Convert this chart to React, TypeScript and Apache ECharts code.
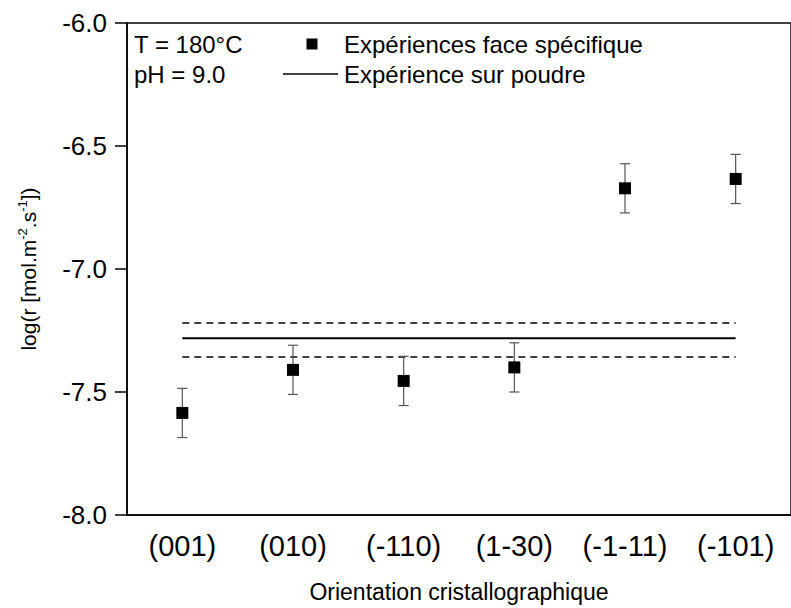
import React, { useEffect, useRef } from 'react';
import * as echarts from 'echarts';

const categories = ['(001)', '(010)', '(-110)', '(1-30)', '(-1-11)', '(-101)'];
const faceValues = [-7.585, -7.41, -7.455, -7.40, -6.672, -6.634];
const faceErrors = [0.1, 0.1, 0.1, 0.1, 0.1, 0.1];
const powderMean = [-7.282, -7.282, -7.282, -7.282, -7.281, -7.281];
const powderUpper = [-7.22, -7.22, -7.22, -7.22, -7.22, -7.22];
const powderLower = [-7.358, -7.358, -7.358, -7.358, -7.358, -7.358];
const conditionLabels = ['T = 180°C', 'pH = 9.0'];
const legendNames = ['Expériences face spécifique', 'Expérience sur poudre'];
const FONT = '"Liberation Sans", Arial, sans-serif';

export default function App() {
  const ref = useRef<HTMLDivElement>(null);
  useEffect(() => {
    if (!ref.current) return;
    const chart = echarts.init(ref.current, null, { renderer: 'svg' });
    const errData = categories.map((c, i) => [i, faceValues[i] - faceErrors[i], faceValues[i] + faceErrors[i]]);
    const textStyle = { fontSize: 24, fill: '#000', fontFamily: FONT, verticalAlign: 'middle' };
    chart.setOption({
      animation: false,
      backgroundColor: '#fff',
      textStyle: { fontFamily: FONT },
      grid: { left: 127, top: 23, width: 670, bottom: 91, show: true, borderColor: '#000', borderWidth: 1.5, backgroundColor: 'transparent' },
      graphic: [
        ...conditionLabels.map((t, i) => ({
          type: 'text',
          x: 134,
          y: 44 + i * 30,
          style: { ...textStyle, text: t },
        })),
        { type: 'rect', shape: { x: 306.5, y: 38.5, width: 11, height: 11 }, style: { fill: '#000' } },
        { type: 'line', shape: { x1: 283, y1: 74, x2: 338, y2: 74 }, style: { stroke: '#000', lineWidth: 1.5 } },
        ...legendNames.map((t, i) => ({
          type: 'text',
          x: 344,
          y: 44 + i * 30,
          style: { ...textStyle, text: t },
        })),
      ],
      xAxis: {
        type: 'category',
        data: categories,
        boundaryGap: true,
        axisLine: { lineStyle: { color: '#000', width: 1.5 } },
        axisTick: { alignWithLabel: true, interval: 0, length: 10, lineStyle: { color: '#000', width: 1.5 } },
        axisLabel: { fontSize: 29, interval: 0, hideOverlap: false, color: '#000', margin: 16, fontFamily: FONT },
        name: 'Orientation cristallographique',
        nameLocation: 'middle',
        nameGap: 65,
        nameTextStyle: { fontSize: 23, color: '#000', fontFamily: FONT },
        splitLine: { show: false },
      },
      yAxis: {
        type: 'value',
        min: -8,
        max: -6,
        interval: 0.5,
        axisLine: { show: true, lineStyle: { color: '#000', width: 1.5 } },
        axisTick: { show: true, length: 12, lineStyle: { color: '#000', width: 1.5 } },
        axisLabel: { fontSize: 26, color: '#000', margin: 20, fontFamily: FONT, formatter: (v: number) => v.toFixed(1) },
        splitLine: { show: false },
        name: 'log(r [mol.m{sup|-2}.s{sup|-1}])',
        nameLocation: 'middle',
        nameGap: 86,
        nameTextStyle: {
          fontSize: 21,
          color: '#000',
          fontFamily: FONT,
          rich: { sup: { fontSize: 13, padding: [0, 0, 12, 0], fontFamily: FONT, color: '#000' } },
        },
      },
      series: [
        {
          name: 'Expérience sur poudre',
          type: 'line',
          data: powderMean,
          symbol: 'none',
          lineStyle: { color: '#000', width: 2 },
          itemStyle: { color: '#000' },
          z: 2,
        },
        {
          name: 'Limite haute',
          type: 'line',
          data: powderUpper,
          symbol: 'none',
          lineStyle: { color: '#000', width: 1.5, type: [7, 5] },
          z: 2,
        },
        {
          name: 'Limite basse',
          type: 'line',
          data: powderLower,
          symbol: 'none',
          lineStyle: { color: '#000', width: 1.5, type: [7, 5] },
          z: 2,
        },
        {
          name: 'Erreur',
          type: 'custom',
          data: errData,
          z: 3,
          renderItem: (params: any, api: any) => {
            const x = api.value(0);
            const lo = api.coord([x, api.value(1)]);
            const hi = api.coord([x, api.value(2)]);
            const hw = 5;
            const st = { stroke: '#555', lineWidth: 1.2 };
            return {
              type: 'group',
              children: [
                { type: 'line', shape: { x1: lo[0], y1: lo[1], x2: hi[0], y2: hi[1] }, style: st },
                { type: 'line', shape: { x1: lo[0] - hw, y1: lo[1], x2: lo[0] + hw, y2: lo[1] }, style: st },
                { type: 'line', shape: { x1: hi[0] - hw, y1: hi[1], x2: hi[0] + hw, y2: hi[1] }, style: st },
              ],
            };
          },
        },
        {
          name: 'Expériences face spécifique',
          type: 'scatter',
          data: faceValues,
          symbol: 'rect',
          symbolSize: 12,
          itemStyle: { color: '#000', opacity: 1 },
          z: 4,
        },
      ],
    });
    return () => chart.dispose();
  }, []);
  return <div ref={ref} style={{ width: 791, height: 608, position: 'absolute', left: 0, top: 0 }} />;
}
